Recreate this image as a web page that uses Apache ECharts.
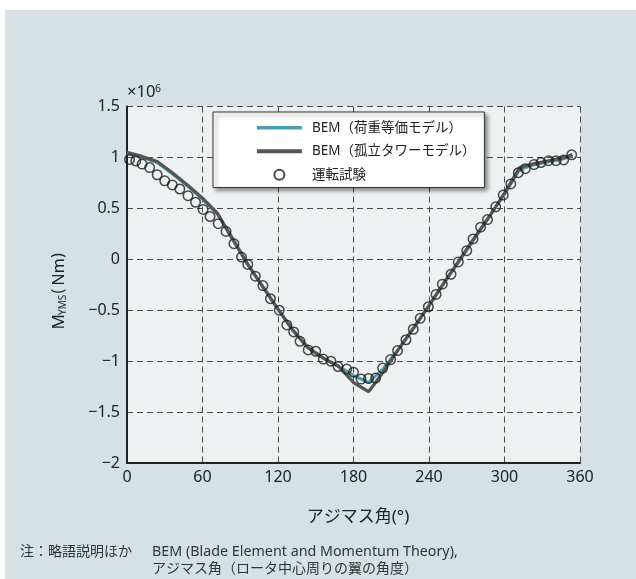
<!DOCTYPE html>
<html>
<head>
<meta charset="utf-8">
<script src="https://cdn.jsdelivr.net/npm/echarts@6/dist/echarts.min.js"></script>
<style>
  html, body { margin: 0; padding: 0; background: #ffffff; }
  #wrap { position: relative; width: 636px; height: 579px; overflow: hidden; }
  #panel { position: absolute; left: 5px; top: 10px; right: 0; bottom: 0; background: #d6e1e6; }
  #chart { position: absolute; left: 0; top: 0; width: 636px; height: 579px; }
</style>
</head>
<body>
<div id="wrap"><div id="panel"></div><div id="chart"></div></div>
<script>
// Azimuth positions (deg) of the BEM calculations
const azimuthBem = [0, 12, 24, 36, 48, 60, 72, 84, 96, 108, 120, 132, 144, 156, 168,
  180, 192, 204, 216, 228, 240, 252, 264, 276, 288, 300, 312, 324, 336, 348, 354];
// Tower-base moment M_YMS (x10^6 Nm), BEM with load-equivalent model
const momentLoadEq = [1.04, 1.00, 0.95, 0.84, 0.72, 0.59, 0.44, 0.19, -0.05, -0.27, -0.49, -0.70, -0.87, -0.97, -1.05,
  -1.14, -1.21, -1.07, -0.88, -0.67, -0.455, -0.23, -0.02, 0.20, 0.42, 0.64, 0.88, 0.93, 0.96, 0.99, 1.02];
// Tower-base moment M_YMS (x10^6 Nm), BEM with isolated tower model
const momentTower = [1.05, 1.01, 0.96, 0.85, 0.73, 0.60, 0.45, 0.20, -0.05, -0.27, -0.49, -0.70, -0.87, -0.97, -1.05,
  -1.21, -1.30, -1.10, -0.88, -0.67, -0.455, -0.23, -0.01, 0.21, 0.42, 0.65, 0.90, 0.94, 0.97, 1.00, 1.03];
// Operation test measurements
const testAzimuth = [2, 7, 12, 18, 24, 30, 36, 42, 48.5, 54.5, 60.5, 66, 72.5, 78.7, 85, 91, 96, 102, 108, 114,
  121, 127, 132.5, 137.5, 144, 150, 156, 162, 167.7, 174.6, 180, 186, 192, 197.6, 203.2, 209.5, 215, 221.7, 227.5, 233,
  239.5, 245.6, 250.6, 257.5, 263.3, 270, 275, 281, 286.5, 293, 299, 305, 311, 316.5, 323.5, 329, 335, 341, 347, 353.4];
const testMoment = [0.98, 0.965, 0.935, 0.90, 0.83, 0.77, 0.73, 0.69, 0.625, 0.56, 0.49, 0.42, 0.35, 0.274, 0.153, 0.022, -0.05, -0.166, -0.258, -0.387,
  -0.5, -0.645, -0.713, -0.805, -0.89, -0.903, -0.98, -1.0, -1.053, -1.078, -1.108, -1.176, -1.17, -1.166, -1.068, -0.985, -0.896, -0.79, -0.687, -0.58,
  -0.466, -0.345, -0.244, -0.147, -0.026, 0.085, 0.2, 0.315, 0.39, 0.515, 0.63, 0.74, 0.85, 0.89, 0.93, 0.95, 0.968, 0.968, 0.975, 1.026];

const seriesNames = ['BEM（荷重等価モデル）', 'BEM（孤立タワーモデル）', '運転試験'];
const xAxisName = 'アジマス角(°)';
const noteLines = ['注：略語説明ほか', 'BEM (Blade Element and Momentum Theory),', 'アジマス角（ロータ中心周りの翼の角度）'];

const FONT = "'Noto Sans', 'Noto Sans CJK JP', sans-serif";
const TEAL = '#48a0ab';
const GREY = '#555555';
const f = px => px + 'px ' + FONT;

const chart = echarts.init(document.getElementById('chart'), null, { renderer: 'canvas' });

const minusFmt = v => String(v).replace('-', '\u2212');

// plain text element helper
const txt = (x, y, text, size, extra) => ({
  type: 'text', x, y,
  style: Object.assign({ text, font: f(size), fill: '#222' }, extra || {})
});

chart.setOption({
  animation: false,
  backgroundColor: 'transparent',
  textStyle: { fontFamily: FONT },
  grid: {
    left: 127, right: 56, top: 106.5, bottom: 116,
    show: true, backgroundColor: '#eef1f2', borderWidth: 0
  },
  xAxis: {
    type: 'value', min: 0, max: 360, interval: 60,
    axisLine: { show: true, onZero: false, lineStyle: { color: '#222', width: 2 } },
    axisTick: { show: false },
    axisLabel: { fontSize: 16, color: '#222', margin: 6, fontFamily: FONT },
    splitLine: { show: true, lineStyle: { type: [6, 4], color: '#4a4a4a', width: 1 } }
  },
  yAxis: {
    type: 'value', min: -2, max: 1.5, interval: 0.5,
    axisLine: { show: true, onZero: false, lineStyle: { color: '#222', width: 2 } },
    axisTick: { show: false },
    axisLabel: { fontSize: 16, color: '#222', margin: 7, fontFamily: FONT, formatter: minusFmt },
    splitLine: { show: true, lineStyle: { type: [6, 4], color: '#4a4a4a', width: 1 } }
  },
  legend: {
    orient: 'vertical', left: 213, top: 112,
    padding: [9, 9, 6, 42],
    itemWidth: 45, itemHeight: 10, itemGap: 10,
    backgroundColor: '#ffffff', borderColor: '#333', borderWidth: 1,
    shadowColor: 'rgba(0,0,0,0.45)', shadowBlur: 4, shadowOffsetX: 3, shadowOffsetY: 3,
    textStyle: { fontSize: 13.5, color: '#222', lineHeight: 12, padding: [0, 0, 0, 5], fontFamily: FONT },
    data: [
      { name: seriesNames[0], itemStyle: { opacity: 0 }, lineStyle: { width: 3.5, color: TEAL } },
      { name: seriesNames[1], itemStyle: { opacity: 0 }, lineStyle: { width: 3.8, color: GREY } },
      { name: seriesNames[2] }
    ]
  },
  graphic: [
    txt(222, 127, '注：', 14, { verticalAlign: 'middle' }),
    // axis multiplier ×10^6
    txt(127, 101, '×10', 16.5, { verticalAlign: 'bottom' }),
    txt(155, 94, '6', 10.5, { verticalAlign: 'bottom' }),
    // rotated y-axis title M_YMS (Nm), laid out along the local x direction
    {
      type: 'group', x: 58, y: 291, rotation: Math.PI / 2,
      children: [
        txt(-38.5, 1, 'M', 17, { verticalAlign: 'middle' }),
        txt(-24, 5.5, 'YMS', 10, { verticalAlign: 'middle' }),
        txt(-2.5, 0, '(', 16, { verticalAlign: 'middle' }),
        txt(5.5, 1, 'Nm', 16, { verticalAlign: 'middle' }),
        txt(33, 0, ')', 16, { verticalAlign: 'middle' })
      ]
    },
    txt(358, 517, xAxisName, 17, { align: 'center', verticalAlign: 'middle' }),
    txt(20, 552, noteLines[0], 14, { verticalAlign: 'middle', fill: '#333' }),
    txt(152, 552, noteLines[1], 14.3, { verticalAlign: 'middle', fill: '#333' }),
    txt(152, 569, noteLines[2], 14, { verticalAlign: 'middle', fill: '#333' })
  ],
  series: [
    {
      name: seriesNames[0], type: 'line', z: 2,
      data: azimuthBem.map((a, i) => [a, momentLoadEq[i]]),
      symbol: 'none', showSymbol: false,
      lineStyle: { color: TEAL, width: 3 },
      itemStyle: { color: TEAL }
    },
    {
      name: seriesNames[1], type: 'line', z: 3,
      data: azimuthBem.map((a, i) => [a, momentTower[i]]),
      symbol: 'none', showSymbol: false,
      lineStyle: { color: GREY, width: 3.2 },
      itemStyle: { color: GREY }
    },
    {
      name: seriesNames[2], type: 'scatter', z: 4,
      data: testAzimuth.map((a, i) => [a, testMoment[i]]),
      symbol: 'circle', symbolSize: 9.5,
      itemStyle: { color: 'rgba(0,0,0,0)', borderColor: '#1e1e1e', borderWidth: 1.5 }
    }
  ]
});
</script>
</body>
</html>
